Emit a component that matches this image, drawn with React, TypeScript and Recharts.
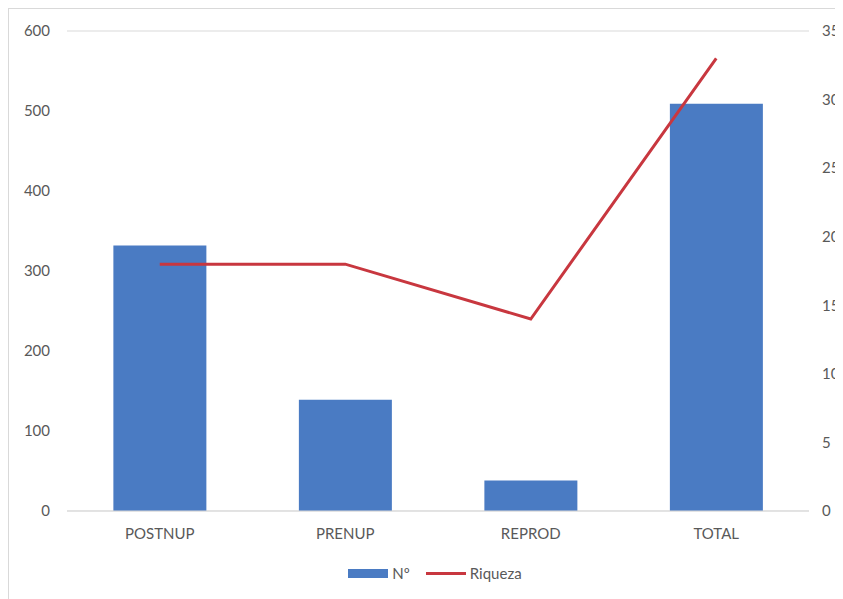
import { Bar, CartesianGrid, ComposedChart, Legend, Line, XAxis, YAxis } from 'recharts'

const categories = ['POSTNUP', 'PRENUP', 'REPROD', 'TOTAL']
const countValues = [332, 139, 38, 509]
const richnessValues = [18, 18, 14, 33]
const leftTicks = [0, 100, 200, 300, 400, 500, 600]
const rightTicks = [0, 5, 10, 15, 20, 25, 30, 35]

const data = categories.map((name, i) => ({
  name,
  count: countValues[i],
  richness: richnessValues[i],
}))

const FONT = 'Lato, "Open Sans", sans-serif'
const TEXT = '#595959'
const BLUE = '#4a7bc3'
const RED = '#c8373f'

function ChartLegend() {
  return (
    <div
      style={{
        display: 'flex',
        justifyContent: 'center',
        alignItems: 'center',
        fontFamily: FONT,
        fontSize: 15,
        color: TEXT,
        gap: 4,
        paddingLeft: 18,
      }}
    >
      <span style={{ display: 'inline-block', width: 40, height: 9, background: BLUE }} />
      <span style={{ marginRight: 12 }}>Nº</span>
      <span style={{ display: 'inline-block', width: 40, height: 3, background: RED }} />
      <span>Riqueza</span>
    </div>
  )
}

export default function App() {
  return (
    <div style={{ width: 840, height: 600, border: '1px solid #d9d9d9', background: '#fff' }}>
      <ComposedChart
        width={834}
        height={591}
        data={data}
        margin={{ top: 22, right: 0, left: 0, bottom: 0 }}
        barCategoryGap="25%"
      >
        <CartesianGrid vertical={false} stroke="#d9d9d9" />
        <XAxis
          dataKey="name"
          axisLine={{ stroke: '#d9d9d9' }}
          tickLine={false}
          tickMargin={11}
          height={71}
          tick={{ fill: TEXT, fontSize: 15, fontFamily: FONT }}
        />
        <YAxis
          yAxisId="left"
          domain={[0, 600]}
          ticks={leftTicks}
          width={58}
          axisLine={false}
          tickLine={false}
          tickMargin={11}
          tick={{ fill: TEXT, fontSize: 15, fontFamily: FONT }}
        />
        <YAxis
          yAxisId="right"
          orientation="right"
          domain={[0, 35]}
          ticks={rightTicks}
          width={34}
          axisLine={false}
          tickLine={false}
          tickMargin={7}
          tick={{ fill: TEXT, fontSize: 15, fontFamily: FONT, textAnchor: 'start' }}
        />
        <Bar yAxisId="left" dataKey="count" name="Nº" fill={BLUE} isAnimationActive={false} />
        <Line
          yAxisId="right"
          dataKey="richness"
          name="Riqueza"
          type="linear"
          stroke={RED}
          strokeWidth={3}
          dot={false}
          activeDot={false}
          isAnimationActive={false}
        />
        <Legend
          content={() => <ChartLegend />}
          wrapperStyle={{ position: 'absolute', top: 555, left: 0, width: 834 }}
        />
      </ComposedChart>
    </div>
  )
}
